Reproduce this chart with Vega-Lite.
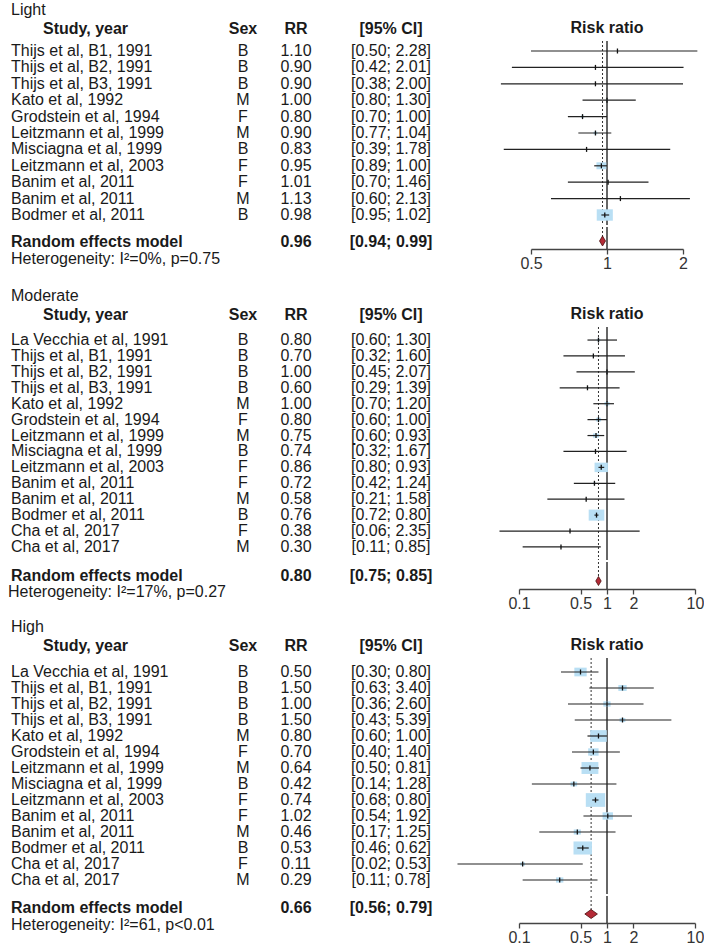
{
"$schema": "https://vega.github.io/schema/vega-lite/v6.json",
"autosize": {"type": "pad"},
"padding": {"left": 8, "top": 2, "right": 0, "bottom": 0},
"background": "white",
"spacing": 0,
"resolve": {"scale": {"size": "independent"}},
"config": {
  "font": "Liberation Sans",
  "view": {"stroke": null},
  "text": {"fontSize": 16, "color": "#1a1a1a", "baseline": "middle"},
  "title": {"fontSize": 16, "fontWeight": "bold", "color": "#1a1a1a", "offset": 4, "baseline": "bottom", "font": "Liberation Sans"},
  "axis": {"labelFont": "Liberation Sans", "labelFontSize": 16, "labelColor": "#333333", "domainColor": "#444444", "domainWidth": 1.3, "tickColor": "#444444", "tickWidth": 1.3, "tickSize": 5, "labelPadding": 1, "grid": false, "labelFlush": false, "labelOverlap": false, "title": null, "format": "~g"}
},
"datasets": {
  "light": [
    {"id": 1, "study": "Thijs et al, B1, 1991", "sex": "B", "rr": 1.10, "lo": 0.50, "hi": 2.28, "w": 0.15},
    {"id": 2, "study": "Thijs et al, B2, 1991", "sex": "B", "rr": 0.90, "lo": 0.42, "hi": 2.01, "w": 0.14},
    {"id": 3, "study": "Thijs et al, B3, 1991", "sex": "B", "rr": 0.90, "lo": 0.38, "hi": 2.00, "w": 0.12},
    {"id": 4, "study": "Kato et al, 1992", "sex": "M", "rr": 1.00, "lo": 0.80, "hi": 1.30, "w": 1.4},
    {"id": 5, "study": "Grodstein et al, 1994", "sex": "F", "rr": 0.80, "lo": 0.70, "hi": 1.00, "w": 2.6},
    {"id": 6, "study": "Leitzmann et al, 1999", "sex": "M", "rr": 0.90, "lo": 0.77, "hi": 1.04, "w": 3.7},
    {"id": 7, "study": "Misciagna et al, 1999", "sex": "B", "rr": 0.83, "lo": 0.39, "hi": 1.78, "w": 0.15},
    {"id": 8, "study": "Leitzmann et al, 2003", "sex": "F", "rr": 0.95, "lo": 0.89, "hi": 1.00, "w": 24.7},
    {"id": 9, "study": "Banim et al, 2011", "sex": "F", "rr": 1.01, "lo": 0.70, "hi": 1.46, "w": 0.6},
    {"id": 10, "study": "Banim et al, 2011", "sex": "M", "rr": 1.13, "lo": 0.60, "hi": 2.13, "w": 0.2},
    {"id": 11, "study": "Bodmer et al, 2011", "sex": "B", "rr": 0.98, "lo": 0.95, "hi": 1.02, "w": 66.2}
  ],
  "light_re": [{"label": "Random effects model", "rr": 0.96, "lo": 0.94, "hi": 0.99, "het": "Heterogeneity: I²=0%, p=0.75"}],
  "moderate": [
    {"id": 1, "study": "La Vecchia et al, 1991", "sex": "B", "rr": 0.80, "lo": 0.60, "hi": 1.30, "w": 2.3},
    {"id": 2, "study": "Thijs et al, B1, 1991", "sex": "B", "rr": 0.70, "lo": 0.32, "hi": 1.60, "w": 0.5},
    {"id": 3, "study": "Thijs et al, B2, 1991", "sex": "B", "rr": 1.00, "lo": 0.45, "hi": 2.07, "w": 0.6},
    {"id": 4, "study": "Thijs et al, B3, 1991", "sex": "B", "rr": 0.60, "lo": 0.29, "hi": 1.39, "w": 0.6},
    {"id": 5, "study": "Kato et al, 1992", "sex": "M", "rr": 1.00, "lo": 0.70, "hi": 1.20, "w": 4.5},
    {"id": 6, "study": "Grodstein et al, 1994", "sex": "F", "rr": 0.80, "lo": 0.60, "hi": 1.00, "w": 5.0},
    {"id": 7, "study": "Leitzmann et al, 1999", "sex": "M", "rr": 0.75, "lo": 0.60, "hi": 0.93, "w": 6.6},
    {"id": 8, "study": "Misciagna et al, 1999", "sex": "B", "rr": 0.74, "lo": 0.32, "hi": 1.67, "w": 0.5},
    {"id": 9, "study": "Leitzmann et al, 2003", "sex": "F", "rr": 0.86, "lo": 0.80, "hi": 0.93, "w": 32.8},
    {"id": 10, "study": "Banim et al, 2011", "sex": "F", "rr": 0.72, "lo": 0.42, "hi": 1.24, "w": 1.2},
    {"id": 11, "study": "Banim et al, 2011", "sex": "M", "rr": 0.58, "lo": 0.21, "hi": 1.58, "w": 0.3},
    {"id": 12, "study": "Bodmer et al, 2011", "sex": "B", "rr": 0.76, "lo": 0.72, "hi": 0.80, "w": 44.9},
    {"id": 13, "study": "Cha et al, 2017", "sex": "F", "rr": 0.38, "lo": 0.06, "hi": 2.35, "w": 0.1},
    {"id": 14, "study": "Cha et al, 2017", "sex": "M", "rr": 0.30, "lo": 0.11, "hi": 0.85, "w": 0.3}
  ],
  "moderate_re": [{"label": "Random effects model", "rr": 0.80, "lo": 0.75, "hi": 0.85, "het": "Heterogeneity: I²=17%, p=0.27"}],
  "high": [
    {"id": 1, "study": "La Vecchia et al, 1991", "sex": "B", "rr": 0.50, "lo": 0.30, "hi": 0.80, "w": 7.7},
    {"id": 2, "study": "Thijs et al, B1, 1991", "sex": "B", "rr": 1.50, "lo": 0.63, "hi": 3.40, "w": 3.5},
    {"id": 3, "study": "Thijs et al, B2, 1991", "sex": "B", "rr": 1.00, "lo": 0.36, "hi": 2.60, "w": 2.7},
    {"id": 4, "study": "Thijs et al, B3, 1991", "sex": "B", "rr": 1.50, "lo": 0.43, "hi": 5.39, "w": 1.7},
    {"id": 5, "study": "Kato et al, 1992", "sex": "M", "rr": 0.80, "lo": 0.60, "hi": 1.00, "w": 13.9},
    {"id": 6, "study": "Grodstein et al, 1994", "sex": "F", "rr": 0.70, "lo": 0.40, "hi": 1.40, "w": 5.5},
    {"id": 7, "study": "Leitzmann et al, 1999", "sex": "M", "rr": 0.64, "lo": 0.50, "hi": 0.81, "w": 14.4},
    {"id": 8, "study": "Misciagna et al, 1999", "sex": "B", "rr": 0.42, "lo": 0.14, "hi": 1.28, "w": 2.2},
    {"id": 9, "study": "Leitzmann et al, 2003", "sex": "F", "rr": 0.74, "lo": 0.68, "hi": 0.80, "w": 19.0},
    {"id": 10, "study": "Banim et al, 2011", "sex": "F", "rr": 1.02, "lo": 0.54, "hi": 1.92, "w": 5.5},
    {"id": 11, "study": "Banim et al, 2011", "sex": "M", "rr": 0.46, "lo": 0.17, "hi": 1.25, "w": 2.6},
    {"id": 12, "study": "Bodmer et al, 2011", "sex": "B", "rr": 0.53, "lo": 0.46, "hi": 0.62, "w": 17.3},
    {"id": 13, "study": "Cha et al, 2017", "sex": "F", "rr": 0.11, "lo": 0.02, "hi": 0.53, "w": 1.1},
    {"id": 14, "study": "Cha et al, 2017", "sex": "M", "rr": 0.29, "lo": 0.11, "hi": 0.78, "w": 2.7}
  ],
  "high_re": [{"label": "Random effects model", "rr": 0.66, "lo": 0.56, "hi": 0.79, "het": "Heterogeneity: I²=61, p<0.01"}]
},
"vconcat": [
 {"title": {"text": "Light", "anchor": "start", "fontWeight": "normal", "offset": 2},
  "bounds": "flush", "spacing": 0, "hconcat": [
   {"width": 207, "height": 184, "title": {"text": "Study, year", "anchor": "start", "dx": 32}, "data": {"name": "light"},
    "mark": {"type": "text", "align": "left"},
    "encoding": {"x": {"datum": 0, "type": "quantitative", "scale": {"domain": [0, 1]}, "axis": null},
                 "y": {"field": "id", "type": "ordinal", "scale": {"type": "point", "padding": 0.61}, "axis": null},
                 "text": {"field": "study"}}},
   {"width": 50, "height": 184, "title": {"text": "Sex", "anchor": "middle"}, "data": {"name": "light"},
    "mark": {"type": "text"},
    "encoding": {"y": {"field": "id", "type": "ordinal", "scale": {"type": "point", "padding": 0.61}, "axis": null},
                 "text": {"field": "sex"}}},
   {"width": 56, "height": 184, "title": {"text": "RR", "anchor": "middle"}, "data": {"name": "light"},
    "mark": {"type": "text"},
    "encoding": {"y": {"field": "id", "type": "ordinal", "scale": {"type": "point", "padding": 0.61}, "axis": null},
                 "text": {"field": "rr", "type": "quantitative", "format": ".2f"}}},
   {"width": 134, "height": 184, "title": {"text": "[95% CI]", "anchor": "middle"}, "data": {"name": "light"},
    "transform": [{"calculate": "'[' + format(datum.lo, '.2f') + '; ' + format(datum.hi, '.2f') + ']'", "as": "ci"}],
    "mark": {"type": "text"},
    "encoding": {"y": {"field": "id", "type": "ordinal", "scale": {"type": "point", "padding": 0.61}, "axis": null},
                 "text": {"field": "ci"}}},
   {"width": 73, "height": 184, "data": {"values": [{}]}, "mark": {"type": "text"}, "encoding": {"text": {"value": ""}}},
   {"width": 152, "height": 184, "title": {"text": "Risk ratio", "anchor": "middle"}, "data": {"name": "light"},
    "layer": [
      {"data": {"values": [{}]}, "mark": {"type": "rule", "color": "#333333", "strokeWidth": 1.5},
       "encoding": {"x": {"datum": 1, "type": "quantitative", "scale": {"type": "log", "domain": [0.5, 2], "nice": false}, "axis": null}}},
      {"data": {"values": [{}]}, "mark": {"type": "rule", "color": "#333333", "strokeWidth": 1, "strokeDash": [2, 2]},
       "encoding": {"x": {"datum": 0.96, "type": "quantitative"}}},
      {"mark": {"type": "point", "shape": "M-1.2,-0.85L1.2,-0.85L1.2,0.85L-1.2,0.85Z", "filled": true, "color": "#b9dff4", "opacity": 1},
       "encoding": {"x": {"field": "rr", "type": "quantitative"},
                    "y": {"field": "id", "type": "ordinal", "scale": {"type": "point", "padding": 0.61}, "axis": null},
                    "size": {"field": "w", "type": "quantitative", "scale": {"domain": [0, 66.2], "range": [0, 180]}, "legend": null}}},
      {"mark": {"type": "rule", "color": "#222222", "strokeWidth": 1.2},
       "encoding": {"x": {"field": "lo", "type": "quantitative"}, "x2": {"field": "hi"}, "y": {"field": "id", "type": "ordinal"}}},
      {"mark": {"type": "point", "shape": "M0,-1L0,1", "filled": false, "color": "#111111", "strokeWidth": 1.3, "size": 25, "opacity": 1},
       "encoding": {"x": {"field": "rr", "type": "quantitative"}, "y": {"field": "id", "type": "ordinal"}}}
    ]}
 ]},
 {"bounds": "flush", "spacing": 0, "hconcat": [
   {"width": 257, "height": 47, "data": {"name": "light_re"},
    "encoding": {"x": {"datum": 0, "type": "quantitative", "scale": {"domain": [0, 1]}, "axis": null}},
    "layer": [
      {"mark": {"type": "text", "align": "left", "fontWeight": "bold"},
       "encoding": {"y": {"datum": "re", "type": "ordinal", "scale": {"type": "point", "domain": ["re", "het"], "padding": 0.88}, "axis": null},
                    "text": {"field": "label"}}},
      {"mark": {"type": "text", "align": "left"},
       "encoding": {"y": {"datum": "het", "type": "ordinal"}, "text": {"field": "het"}}}
    ]},
   {"width": 56, "height": 47, "data": {"name": "light_re"},
    "mark": {"type": "text", "fontWeight": "bold"},
    "encoding": {"y": {"datum": "re", "type": "ordinal", "scale": {"type": "point", "domain": ["re", "het"], "padding": 0.88}, "axis": null},
                 "text": {"field": "rr", "type": "quantitative", "format": ".2f"}}},
   {"width": 134, "height": 47, "data": {"name": "light_re"},
    "transform": [{"calculate": "'[' + format(datum.lo, '.2f') + '; ' + format(datum.hi, '.2f') + ']'", "as": "ci"}],
    "mark": {"type": "text", "fontWeight": "bold"},
    "encoding": {"y": {"datum": "re", "type": "ordinal", "scale": {"type": "point", "domain": ["re", "het"], "padding": 0.88}, "axis": null},
                 "text": {"field": "ci"}}},
   {"width": 73, "height": 61, "data": {"values": [{}]}, "mark": {"type": "text"}, "encoding": {"text": {"value": ""}}},
   {"width": 152, "height": 22, "data": {"name": "light_re"},
    "layer": [
      {"mark": {"type": "rule", "color": "#333333", "strokeWidth": 1.5},
       "encoding": {"x": {"datum": 1, "type": "quantitative", "scale": {"type": "log", "domain": [0.5, 2], "nice": false},
                          "axis": {"values": [0.5, 1, 2]}}}},
      {"mark": {"type": "rule", "color": "#333333", "strokeWidth": 1, "strokeDash": [2, 2]},
       "encoding": {"x": {"field": "rr", "type": "quantitative"},
                    "y": {"datum": "top", "type": "ordinal", "scale": {"type": "point", "domain": ["top", "re"], "padding": 0.286, "align": 0}, "axis": null},
                    "y2": {"datum": "re"}}},
      {"mark": {"type": "point", "shape": "M0,-1L0.6,0L0,1L-0.6,0Z", "filled": true, "color": "#b42a36", "stroke": "#4a1010", "strokeWidth": 0.8, "size": 100, "opacity": 1},
       "encoding": {"x": {"field": "rr", "type": "quantitative"},
                    "y": {"datum": "re", "type": "ordinal"}}}
    ]}
 ]},
 {"title": {"text": "Moderate", "anchor": "start", "fontWeight": "normal", "offset": 2},
  "bounds": "flush", "spacing": 0, "hconcat": [
   {"width": 207, "height": 233, "title": {"text": "Study, year", "anchor": "start", "dx": 32}, "data": {"name": "moderate"},
    "mark": {"type": "text", "align": "left"},
    "encoding": {"x": {"datum": 0, "type": "quantitative", "scale": {"domain": [0, 1]}, "axis": null},
                 "y": {"field": "id", "type": "ordinal", "scale": {"type": "point", "padding": 0.82}, "axis": null},
                 "text": {"field": "study"}}},
   {"width": 50, "height": 233, "title": {"text": "Sex", "anchor": "middle"}, "data": {"name": "moderate"},
    "mark": {"type": "text"},
    "encoding": {"y": {"field": "id", "type": "ordinal", "scale": {"type": "point", "padding": 0.82}, "axis": null},
                 "text": {"field": "sex"}}},
   {"width": 56, "height": 233, "title": {"text": "RR", "anchor": "middle"}, "data": {"name": "moderate"},
    "mark": {"type": "text"},
    "encoding": {"y": {"field": "id", "type": "ordinal", "scale": {"type": "point", "padding": 0.82}, "axis": null},
                 "text": {"field": "rr", "type": "quantitative", "format": ".2f"}}},
   {"width": 134, "height": 233, "title": {"text": "[95% CI]", "anchor": "middle"}, "data": {"name": "moderate"},
    "transform": [{"calculate": "'[' + format(datum.lo, '.2f') + '; ' + format(datum.hi, '.2f') + ']'", "as": "ci"}],
    "mark": {"type": "text"},
    "encoding": {"y": {"field": "id", "type": "ordinal", "scale": {"type": "point", "padding": 0.82}, "axis": null},
                 "text": {"field": "ci"}}},
   {"width": 61, "height": 233, "data": {"values": [{}]}, "mark": {"type": "text"}, "encoding": {"text": {"value": ""}}},
   {"width": 176, "height": 233, "title": {"text": "Risk ratio", "anchor": "middle"}, "data": {"name": "moderate"},
    "layer": [
      {"data": {"values": [{}]}, "mark": {"type": "rule", "color": "#333333", "strokeWidth": 1.5},
       "encoding": {"x": {"datum": 1, "type": "quantitative", "scale": {"type": "log", "domain": [0.1, 10], "nice": false}, "axis": null}}},
      {"data": {"values": [{}]}, "mark": {"type": "rule", "color": "#333333", "strokeWidth": 1, "strokeDash": [2, 2]},
       "encoding": {"x": {"datum": 0.80, "type": "quantitative"}}},
      {"mark": {"type": "point", "shape": "M-1.2,-0.85L1.2,-0.85L1.2,0.85L-1.2,0.85Z", "filled": true, "color": "#b9dff4", "opacity": 1},
       "encoding": {"x": {"field": "rr", "type": "quantitative"},
                    "y": {"field": "id", "type": "ordinal", "scale": {"type": "point", "padding": 0.82}, "axis": null},
                    "size": {"field": "w", "type": "quantitative", "scale": {"domain": [0, 44.9], "range": [0, 170]}, "legend": null}}},
      {"mark": {"type": "rule", "color": "#222222", "strokeWidth": 1.2},
       "encoding": {"x": {"field": "lo", "type": "quantitative"}, "x2": {"field": "hi"}, "y": {"field": "id", "type": "ordinal"}}},
      {"mark": {"type": "point", "shape": "M0,-1L0,1", "filled": false, "color": "#111111", "strokeWidth": 1.3, "size": 25, "opacity": 1},
       "encoding": {"x": {"field": "rr", "type": "quantitative"}, "y": {"field": "id", "type": "ordinal"}}}
    ]}
 ]},
 {"bounds": "flush", "spacing": 0, "hconcat": [
   {"width": 257, "height": 44, "data": {"name": "moderate_re"},
    "encoding": {"x": {"datum": 0, "type": "quantitative", "scale": {"domain": [0, 1]}, "axis": null}},
    "layer": [
      {"mark": {"type": "text", "align": "left", "fontWeight": "bold"},
       "encoding": {"y": {"datum": "re", "type": "ordinal", "scale": {"type": "point", "domain": ["re", "het"], "padding": 0.875}, "axis": null},
                    "text": {"field": "label"}}},
      {"mark": {"type": "text", "align": "left", "dx": -3},
       "encoding": {"y": {"datum": "het", "type": "ordinal"}, "text": {"field": "het"}}}
    ]},
   {"width": 56, "height": 44, "data": {"name": "moderate_re"},
    "mark": {"type": "text", "fontWeight": "bold"},
    "encoding": {"y": {"datum": "re", "type": "ordinal", "scale": {"type": "point", "domain": ["re", "het"], "padding": 0.875}, "axis": null},
                 "text": {"field": "rr", "type": "quantitative", "format": ".2f"}}},
   {"width": 134, "height": 44, "data": {"name": "moderate_re"},
    "transform": [{"calculate": "'[' + format(datum.lo, '.2f') + '; ' + format(datum.hi, '.2f') + ']'", "as": "ci"}],
    "mark": {"type": "text", "fontWeight": "bold"},
    "encoding": {"y": {"datum": "re", "type": "ordinal", "scale": {"type": "point", "domain": ["re", "het"], "padding": 0.875}, "axis": null},
                 "text": {"field": "ci"}}},
   {"width": 61, "height": 57, "data": {"values": [{}]}, "mark": {"type": "text"}, "encoding": {"text": {"value": ""}}},
   {"width": 176, "height": 27, "data": {"name": "moderate_re"},
    "layer": [
      {"mark": {"type": "rule", "color": "#333333", "strokeWidth": 1.5},
       "encoding": {"x": {"datum": 1, "type": "quantitative", "scale": {"type": "log", "domain": [0.1, 10], "nice": false},
                          "axis": {"values": [0.1, 0.5, 1, 2, 10]}}}},
      {"mark": {"type": "rule", "color": "#333333", "strokeWidth": 1, "strokeDash": [2, 2]},
       "encoding": {"x": {"field": "rr", "type": "quantitative"},
                    "y": {"datum": "top", "type": "ordinal", "scale": {"type": "point", "domain": ["top", "re"], "padding": 0.21, "align": 0}, "axis": null},
                    "y2": {"datum": "re"}}},
      {"mark": {"type": "point", "shape": "M0,-1L0.6,0L0,1L-0.6,0Z", "filled": true, "color": "#b42a36", "stroke": "#4a1010", "strokeWidth": 0.8, "size": 81, "opacity": 1},
       "encoding": {"x": {"field": "rr", "type": "quantitative"},
                    "y": {"datum": "re", "type": "ordinal"}}}
    ]}
 ]},
 {"title": {"text": "High", "anchor": "start", "fontWeight": "normal", "offset": 2},
  "bounds": "flush", "spacing": 0, "hconcat": [
   {"width": 207, "height": 236, "title": {"text": "Study, year", "anchor": "start", "dx": 32}, "data": {"name": "high"},
    "mark": {"type": "text", "align": "left"},
    "encoding": {"x": {"datum": 0, "type": "quantitative", "scale": {"domain": [0, 1]}, "axis": null},
                 "y": {"field": "id", "type": "ordinal", "scale": {"type": "point", "padding": 0.875}, "axis": null},
                 "text": {"field": "study"}}},
   {"width": 50, "height": 236, "title": {"text": "Sex", "anchor": "middle"}, "data": {"name": "high"},
    "mark": {"type": "text"},
    "encoding": {"y": {"field": "id", "type": "ordinal", "scale": {"type": "point", "padding": 0.875}, "axis": null},
                 "text": {"field": "sex"}}},
   {"width": 56, "height": 236, "title": {"text": "RR", "anchor": "middle"}, "data": {"name": "high"},
    "mark": {"type": "text"},
    "encoding": {"y": {"field": "id", "type": "ordinal", "scale": {"type": "point", "padding": 0.875}, "axis": null},
                 "text": {"field": "rr", "type": "quantitative", "format": ".2f"}}},
   {"width": 134, "height": 236, "title": {"text": "[95% CI]", "anchor": "middle"}, "data": {"name": "high"},
    "transform": [{"calculate": "'[' + format(datum.lo, '.2f') + '; ' + format(datum.hi, '.2f') + ']'", "as": "ci"}],
    "mark": {"type": "text"},
    "encoding": {"y": {"field": "id", "type": "ordinal", "scale": {"type": "point", "padding": 0.875}, "axis": null},
                 "text": {"field": "ci"}}},
   {"width": 61, "height": 236, "data": {"values": [{}]}, "mark": {"type": "text"}, "encoding": {"text": {"value": ""}}},
   {"width": 176, "height": 236, "title": {"text": "Risk ratio", "anchor": "middle"}, "data": {"name": "high"},
    "layer": [
      {"data": {"values": [{}]}, "mark": {"type": "rule", "color": "#333333", "strokeWidth": 1.5},
       "encoding": {"x": {"datum": 1, "type": "quantitative", "scale": {"type": "log", "domain": [0.1, 10], "nice": false}, "axis": null}}},
      {"data": {"values": [{}]}, "mark": {"type": "rule", "color": "#333333", "strokeWidth": 1, "strokeDash": [2, 2]},
       "encoding": {"x": {"datum": 0.66, "type": "quantitative"}}},
      {"mark": {"type": "point", "shape": "M-1.2,-0.85L1.2,-0.85L1.2,0.85L-1.2,0.85Z", "filled": true, "color": "#b9dff4", "opacity": 1},
       "encoding": {"x": {"field": "rr", "type": "quantitative"},
                    "y": {"field": "id", "type": "ordinal", "scale": {"type": "point", "padding": 0.875}, "axis": null},
                    "size": {"field": "w", "type": "quantitative", "scale": {"domain": [0, 19.0], "range": [0, 260]}, "legend": null}}},
      {"mark": {"type": "rule", "color": "#222222", "strokeWidth": 1.2},
       "encoding": {"x": {"field": "lo", "type": "quantitative"}, "x2": {"field": "hi"}, "y": {"field": "id", "type": "ordinal"}}},
      {"mark": {"type": "point", "shape": "M0,-1L0,1", "filled": false, "color": "#111111", "strokeWidth": 1.3, "size": 25, "opacity": 1},
       "encoding": {"x": {"field": "rr", "type": "quantitative"}, "y": {"field": "id", "type": "ordinal"}}}
    ]}
 ]},
 {"bounds": "flush", "spacing": 0, "hconcat": [
   {"width": 257, "height": 41, "data": {"name": "high_re"},
    "encoding": {"x": {"datum": 0, "type": "quantitative", "scale": {"domain": [0, 1]}, "axis": null}},
    "layer": [
      {"mark": {"type": "text", "align": "left", "fontWeight": "bold"},
       "encoding": {"y": {"datum": "re", "type": "ordinal", "scale": {"type": "point", "domain": ["re", "het"], "padding": 0.706}, "axis": null},
                    "text": {"field": "label"}}},
      {"mark": {"type": "text", "align": "left"},
       "encoding": {"y": {"datum": "het", "type": "ordinal"}, "text": {"field": "het"}}}
    ]},
   {"width": 56, "height": 41, "data": {"name": "high_re"},
    "mark": {"type": "text", "fontWeight": "bold"},
    "encoding": {"y": {"datum": "re", "type": "ordinal", "scale": {"type": "point", "domain": ["re", "het"], "padding": 0.706}, "axis": null},
                 "text": {"field": "rr", "type": "quantitative", "format": ".2f"}}},
   {"width": 134, "height": 41, "data": {"name": "high_re"},
    "transform": [{"calculate": "'[' + format(datum.lo, '.2f') + '; ' + format(datum.hi, '.2f') + ']'", "as": "ci"}],
    "mark": {"type": "text", "fontWeight": "bold"},
    "encoding": {"y": {"datum": "re", "type": "ordinal", "scale": {"type": "point", "domain": ["re", "het"], "padding": 0.706}, "axis": null},
                 "text": {"field": "ci"}}},
   {"width": 61, "height": 41, "data": {"values": [{}]}, "mark": {"type": "text"}, "encoding": {"text": {"value": ""}}},
   {"width": 176, "height": 27, "data": {"name": "high_re"},
    "layer": [
      {"mark": {"type": "rule", "color": "#333333", "strokeWidth": 1.5},
       "encoding": {"x": {"datum": 1, "type": "quantitative", "scale": {"type": "log", "domain": [0.1, 10], "nice": false},
                          "axis": {"values": [0.1, 0.5, 1, 2, 10]}}}},
      {"mark": {"type": "rule", "color": "#333333", "strokeWidth": 1, "strokeDash": [2, 2]},
       "encoding": {"x": {"field": "rr", "type": "quantitative"},
                    "y": {"datum": "top", "type": "ordinal", "scale": {"type": "point", "domain": ["top", "re"], "padding": 0.25, "align": 0}, "axis": null},
                    "y2": {"datum": "re"}}},
      {"mark": {"type": "point", "shape": "M0,-1L1.4,0L0,1L-1.4,0Z", "filled": true, "color": "#b42a36", "stroke": "#4a1010", "strokeWidth": 0.8, "size": 81, "opacity": 1},
       "encoding": {"x": {"field": "rr", "type": "quantitative"},
                    "y": {"datum": "re", "type": "ordinal"}}}
    ]}
 ]}
]
}
